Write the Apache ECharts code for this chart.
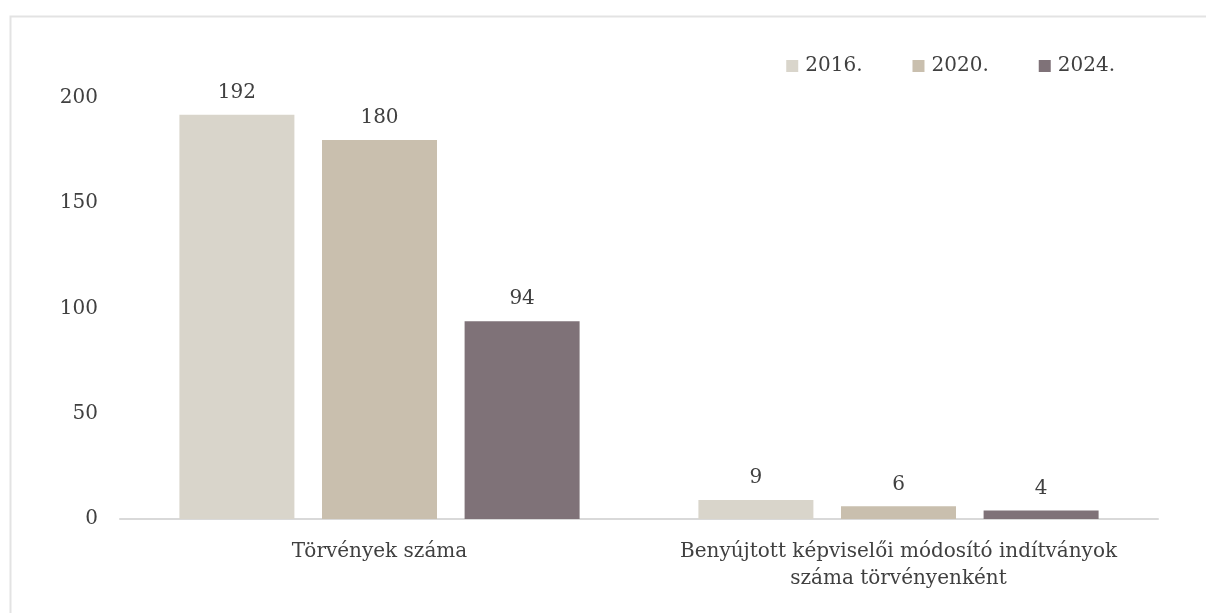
<!DOCTYPE html>
<html>
<head>
<meta charset="utf-8">
<script src="https://cdn.jsdelivr.net/npm/echarts@6/dist/echarts.min.js"></script>
<style>
html,body{margin:0;padding:0;background:#fff;}
#c{width:1206px;height:613px;}
</style>
</head>
<body>
<div id="c"></div>
<script>
const categories = ['Törvények száma', 'Benyújtott képviselői módosító indítványok\nszáma törvényenként'];
const seriesNames = ['2016.', '2020.', '2024.'];
const values2016 = [192, 9];
const values2020 = [180, 6];
const values2024 = [94, 4];
const yTicks = [0, 50, 100, 150, 200];

const colors = ['#d9d5cb', '#c9bfae', '#7f7278'];
const FONT = 'DejaVu Serif';
const TXT = '#404040';

const chart = echarts.init(document.getElementById('c'));
const data = [values2016, values2020, values2024];
chart.setOption({
  animation: false,
  textStyle: {fontFamily: FONT},
  graphic: [{
    type: 'rect', left: 8, top: 14,
    shape: {width: 1300, height: 700},
    style: {fill: 'none', stroke: '#e3e3e3', lineWidth: 2},
    silent: true
  }],
  legend: {
    top: 51, right: 86,
    itemWidth: 12, itemHeight: 12, itemGap: 50,
    icon: 'rect',
    textStyle: {fontFamily: FONT, fontSize: 20, color: TXT, padding: [0, 0, 0, 2]},
    data: seriesNames
  },
  grid: {left: 120, right: 48, top: 98, bottom: 94},
  xAxis: {
    type: 'category',
    data: categories,
    axisLine: {lineStyle: {color: '#d9d9d9', width: 2}},
    axisTick: {show: false},
    axisLabel: {fontFamily: FONT, fontSize: 20, color: TXT, margin: 19, lineHeight: 27, interval: 0}
  },
  yAxis: {
    type: 'value', min: 0, max: 200, interval: 50,
    splitLine: {show: false},
    axisLine: {show: false},
    axisTick: {show: false},
    axisLabel: {fontFamily: FONT, fontSize: 20, color: TXT, margin: 22,
      formatter: v => yTicks.includes(v) ? String(v) : ''}
  },
  series: seriesNames.map((n, i) => ({
    name: n, type: 'bar', data: data[i],
    barWidth: 115, barGap: '24%',
    itemStyle: {color: colors[i]},
    label: {show: true, position: 'top', distance: 12, fontFamily: FONT, fontSize: 20, color: TXT}
  }))
});
</script>
</body>
</html>
